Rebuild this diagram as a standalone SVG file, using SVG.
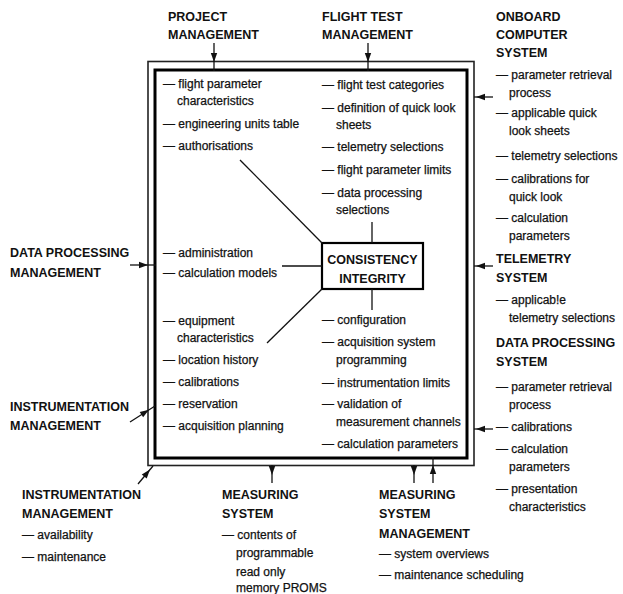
<svg xmlns="http://www.w3.org/2000/svg" width="623" height="594" viewBox="0 0 623 594">
<defs>
<style>
.h{font-family:"Liberation Sans",Arial,sans-serif;font-weight:bold;font-size:12.5px;fill:#111}
.t{font-family:"Liberation Sans",Arial,sans-serif;font-size:12px;fill:#111;stroke:#111;stroke-width:0.25}
.ln{stroke:#111;stroke-width:1.3;fill:none}
.ah{fill:#111}
</style>
<path id="ah" d="M0,0 L-3.2,-9 L3.2,-9 Z"/>
</defs>
<rect width="623" height="594" fill="#fff"/>

<g id="database">
<rect x="148" y="61.5" width="326" height="404" fill="none" stroke="#222" stroke-width="1.6"/>
<rect x="155" y="70" width="312" height="388" fill="none" stroke="#000" stroke-width="3"/>
</g>

<g id="consistency">
<rect x="322" y="243" width="101" height="46" fill="#fff" stroke="#000" stroke-width="2.2"/>
<text class="h" x="372.5" y="264" text-anchor="middle">CONSISTENCY</text>
<text class="h" x="372.5" y="283" text-anchor="middle">INTEGRITY</text>
</g>

<g id="connectors">
<line class="ln" x1="214" y1="43" x2="214" y2="71"/>
<use href="#ah" class="ah" transform="translate(214,62)"/>
<line class="ln" x1="368" y1="43" x2="368" y2="71"/>
<use href="#ah" class="ah" transform="translate(368,62)"/>
<line class="ln" x1="474" y1="97" x2="493" y2="97"/>
<use href="#ah" class="ah" transform="translate(476,97) rotate(90)"/>
<line class="ln" x1="474" y1="266" x2="493" y2="266"/>
<use href="#ah" class="ah" transform="translate(476,266) rotate(90)"/>
<line class="ln" x1="474" y1="429" x2="493" y2="429"/>
<use href="#ah" class="ah" transform="translate(476,429) rotate(90)"/>
<line class="ln" x1="130" y1="265" x2="156" y2="265"/>
<use href="#ah" class="ah" transform="translate(148,265) rotate(-90)"/>
<line class="ln" x1="130" y1="422" x2="155" y2="406"/>
<use href="#ah" class="ah" transform="translate(149,409.8) rotate(-122.6)"/>
<line class="ln" x1="138" y1="484" x2="153" y2="466"/>
<use href="#ah" class="ah" transform="translate(150,469.6) rotate(-140.2)"/>
<line class="ln" x1="272" y1="465" x2="272" y2="483"/>
<use href="#ah" class="ah" transform="translate(272,475)"/>
<line class="ln" x1="414" y1="465" x2="414" y2="483"/>
<use href="#ah" class="ah" transform="translate(414,475)"/>
<line class="ln" x1="433" y1="457" x2="433" y2="483"/>
<use href="#ah" class="ah" transform="translate(433,465) rotate(180)"/>
<line class="ln" x1="372" y1="222" x2="372" y2="243"/>
<line class="ln" x1="372" y1="289" x2="372" y2="310"/>
<line class="ln" x1="282" y1="266" x2="322" y2="266"/>
<line class="ln" x1="240" y1="160" x2="322" y2="243"/>
<line class="ln" x1="267" y1="343" x2="322" y2="289"/>
</g>

<g id="project-management">
<text class="h" x="168" y="21">PROJECT</text>
<text class="h" x="168" y="39">MANAGEMENT</text>
</g>
<g id="flight-test-management">
<text class="h" x="322" y="21">FLIGHT TEST</text>
<text class="h" x="322" y="39">MANAGEMENT</text>
</g>
<g id="onboard-computer-system">
<text class="h" x="496" y="21">ONBOARD</text>
<text class="h" x="496" y="39">COMPUTER</text>
<text class="h" x="496" y="57">SYSTEM</text>
<text class="t" x="496" y="79">— parameter retrieval</text>
<text class="t" x="509" y="97">process</text>
<text class="t" x="496" y="117">— applicable quick</text>
<text class="t" x="509" y="135">look sheets</text>
<text class="t" x="496" y="160">— telemetry selections</text>
<text class="t" x="496" y="183">— calibrations for</text>
<text class="t" x="509" y="201">quick look</text>
<text class="t" x="496" y="222">— calculation</text>
<text class="t" x="509" y="240">parameters</text>
</g>
<g id="telemetry-system">
<text class="h" x="496" y="263">TELEMETRY</text>
<text class="h" x="496" y="282">SYSTEM</text>
<text class="t" x="496" y="304">— applicab!e</text>
<text class="t" x="509" y="322">telemetry selections</text>
</g>
<g id="data-processing-system">
<text class="h" x="496" y="347">DATA PROCESSING</text>
<text class="h" x="496" y="366">SYSTEM</text>
<text class="t" x="496" y="391">— parameter retrieval</text>
<text class="t" x="509" y="409">process</text>
<text class="t" x="496" y="431">— calibrations</text>
<text class="t" x="496" y="453">— calculation</text>
<text class="t" x="509" y="471">parameters</text>
<text class="t" x="496" y="493">— presentation</text>
<text class="t" x="509" y="511">characteristics</text>
</g>
<g id="data-processing-management">
<text class="h" x="10" y="257">DATA PROCESSING</text>
<text class="h" x="10" y="277">MANAGEMENT</text>
</g>
<g id="instrumentation-management-left">
<text class="h" x="10" y="411">INSTRUMENTATION</text>
<text class="h" x="10" y="430">MANAGEMENT</text>
</g>
<g id="database-items-left">
<text class="t" x="163" y="88">— flight parameter</text>
<text class="t" x="177" y="105">characteristics</text>
<text class="t" x="163" y="128">— engineering units table</text>
<text class="t" x="163" y="150">— authorisations</text>
<text class="t" x="163" y="257">— administration</text>
<text class="t" x="163" y="277">— calculation models</text>
<text class="t" x="163" y="325">— equipment</text>
<text class="t" x="177" y="342">characteristics</text>
<text class="t" x="163" y="364">— location history</text>
<text class="t" x="163" y="386">— calibrations</text>
<text class="t" x="163" y="408">— reservation</text>
<text class="t" x="163" y="430">— acquisition planning</text>
</g>
<g id="database-items-right">
<text class="t" x="322" y="89">— flight test categories</text>
<text class="t" x="322" y="112">— definition of quick look</text>
<text class="t" x="336" y="129">sheets</text>
<text class="t" x="322" y="151">— telemetry selections</text>
<text class="t" x="322" y="174">— flight parameter limits</text>
<text class="t" x="322" y="197">— data processing</text>
<text class="t" x="336" y="214">selections</text>
<text class="t" x="322" y="324">— configuration</text>
<text class="t" x="322" y="346">— acquisition system</text>
<text class="t" x="336" y="364">programming</text>
<text class="t" x="322" y="387">— instrumentation limits</text>
<text class="t" x="322" y="408">— validation of</text>
<text class="t" x="336" y="426">measurement channels</text>
<text class="t" x="322" y="448">— calculation parameters</text>
</g>
<g id="instrumentation-management-bottom">
<text class="h" x="22" y="499">INSTRUMENTATION</text>
<text class="h" x="22" y="518">MANAGEMENT</text>
<text class="t" x="22" y="539">— availability</text>
<text class="t" x="22" y="561">— maintenance</text>
</g>
<g id="measuring-system">
<text class="h" x="222" y="499">MEASURING</text>
<text class="h" x="222" y="518">SYSTEM</text>
<text class="t" x="222" y="539">— contents of</text>
<text class="t" x="236" y="557">programmable</text>
<text class="t" x="236" y="576">read only</text>
<text class="t" x="236" y="592">memory PROMS</text>
</g>
<g id="measuring-system-management">
<text class="h" x="379" y="499">MEASURING</text>
<text class="h" x="379" y="518">SYSTEM</text>
<text class="h" x="379" y="538">MANAGEMENT</text>
<text class="t" x="379" y="558">— system overviews</text>
<text class="t" x="379" y="579">— maintenance scheduling</text>
</g>
</svg>
